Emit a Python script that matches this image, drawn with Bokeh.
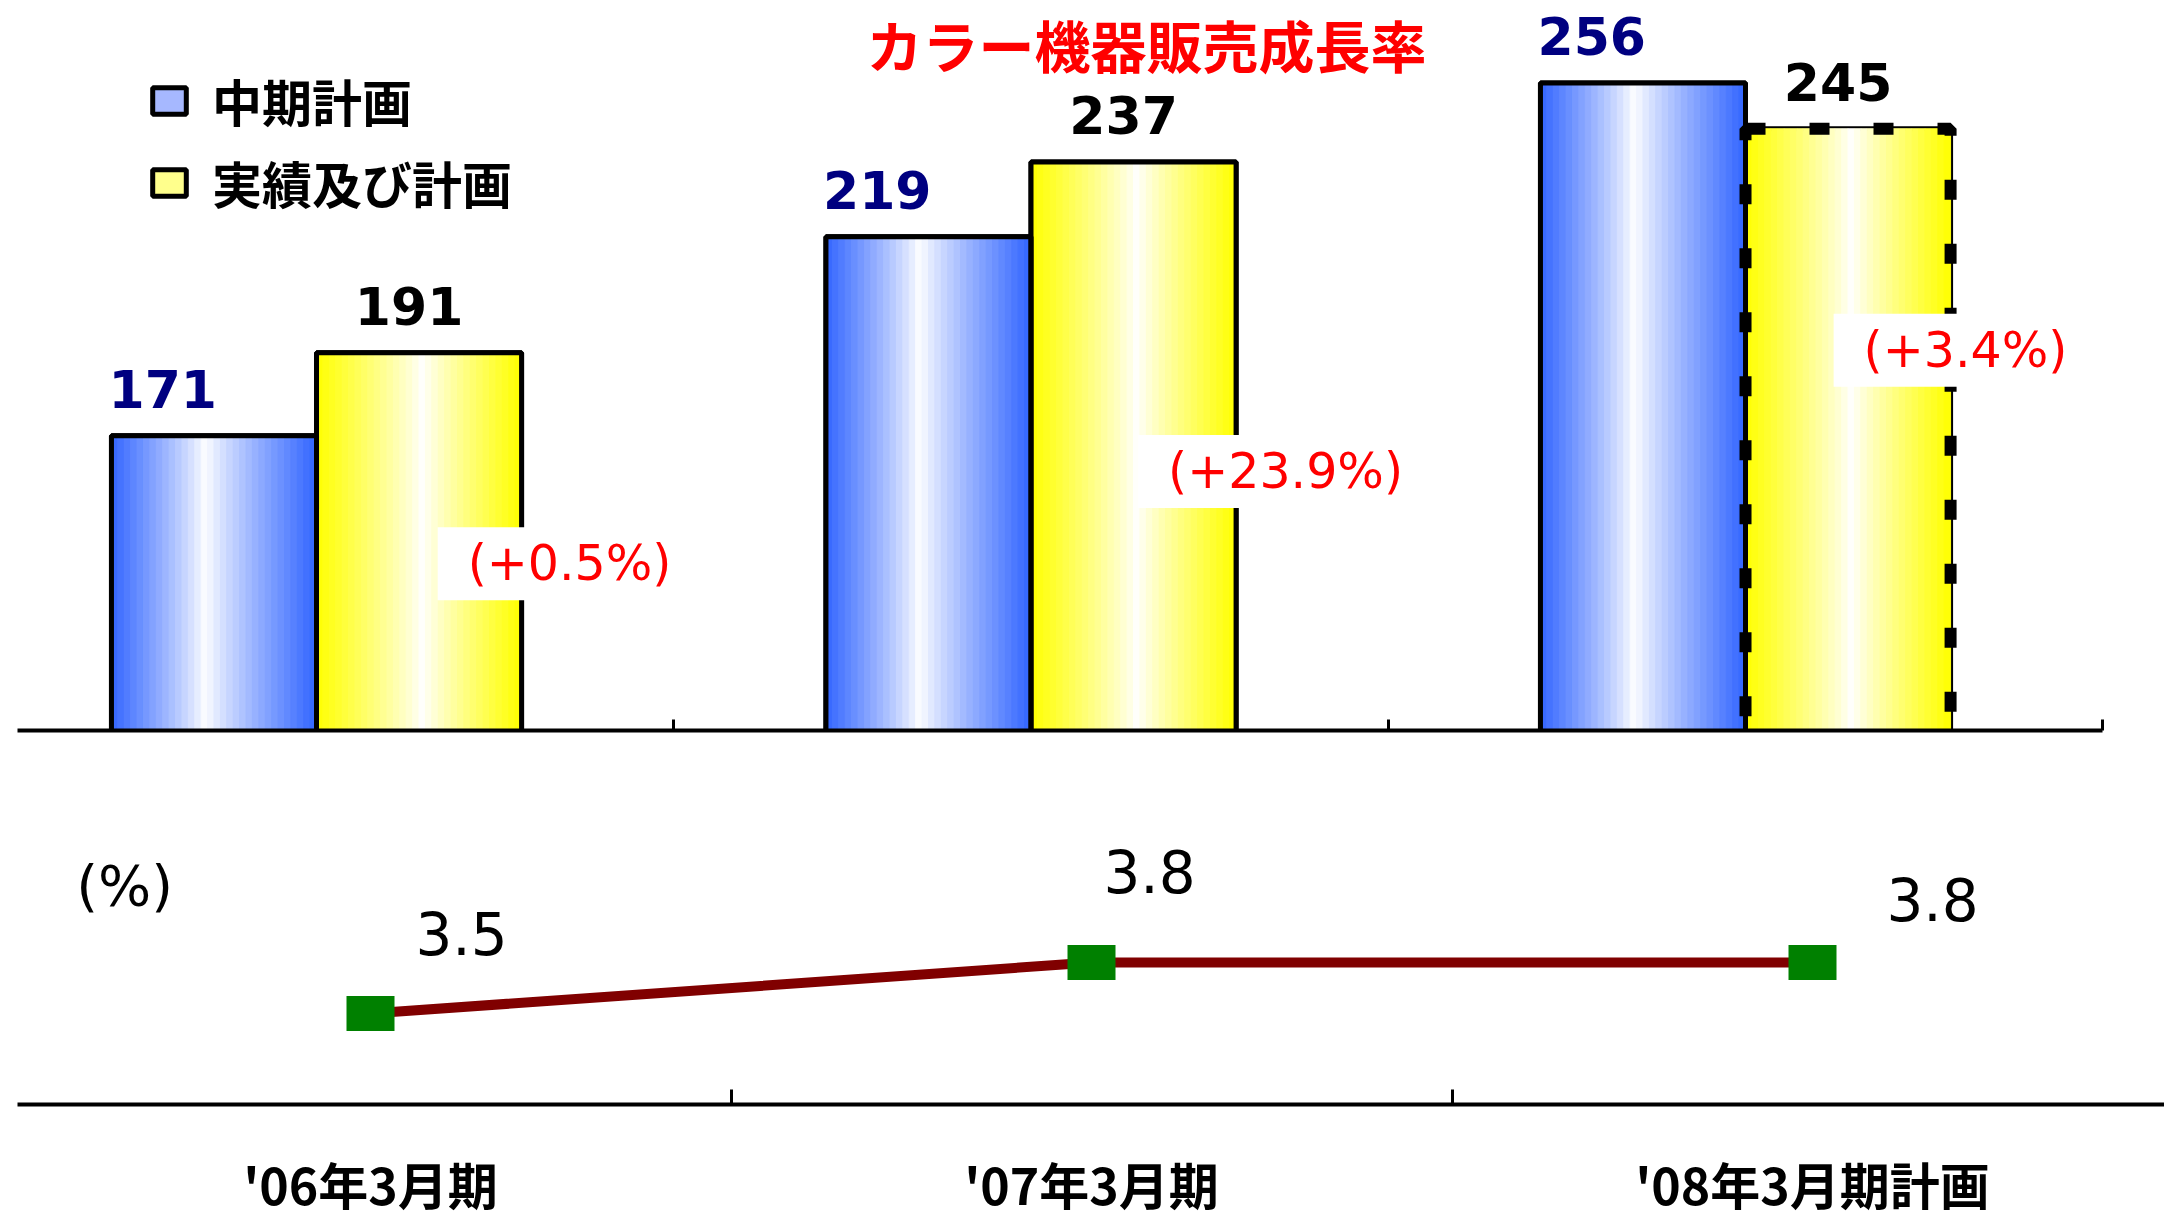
from bokeh.plotting import figure
from bokeh.models import Range1d, FixedTicker, Label, Legend, LegendItem, ColumnDataSource
from bokeh.layouts import column
from bokeh.embed import file_html
from bokeh.resources import INLINE

# ---------------- data ----------------
categories = ["'06年3月期", "'07年3月期", "'08年3月期計画"]
series_names = ["中期計画", "実績及び計画"]
plan_values = [171, 219, 256]        # 中期計画
actual_values = [191, 237, 245]      # 実績及び計画
growth_pct = [0.5, 23.9, 3.4]        # 前期比
ratio_values = [3.5, 3.8, 3.8]       # (%)
title_text = "カラー機器販売成長率"
unit_label = "(%)"

# ---------------- layout constants ----------------
W = 2164
LEFT = 17
TOP_FRAME, TOP_PANEL = 730, 60
BOT_FRAME, BOT_PANEL = 314, 118
BAR_W = 0.287
N_STRIPES = 32
CJK = "Noto Sans CJK JP"
NUM = "DejaVu Sans"
BLUE = (51, 102, 255)
YELLOW = (255, 255, 0)

TOP_Y0, TOP_PX = 100, 4.15          # bar axis start, pixels per unit
BOT_Y0, BOT_PX = 2.9647, 170.0      # ratio axis start, pixels per unit


def grad_color(base, t, c):
    w = c if t < c else 1 - c
    f = min(1.0, abs(t - c) / w) ** 0.85
    r, g, b = (round(255 * (1 - f) + ch * f) for ch in base)
    return "#%02x%02x%02x" % (r, g, b)


# ---------------- top: bars ----------------
top_end = TOP_Y0 + TOP_FRAME / TOP_PX
p1 = figure(width=W, height=TOP_FRAME + TOP_PANEL, x_range=Range1d(-0.4185, 2.5864),
            y_range=Range1d(TOP_Y0, top_end), toolbar_location=None,
            output_backend="svg", y_axis_location=None,
            min_border_left=LEFT, min_border_right=0, min_border_top=0,
            min_border_bottom=TOP_PANEL)
p1.outline_line_color = None
p1.xgrid.visible = False
p1.ygrid.visible = False

xs = list(range(len(categories)))
plan_left = [x - BAR_W for x in xs]
act_right = [x + BAR_W for x in xs]

# base bars (also used as legend swatches)
r_blue = p1.quad(left=plan_left, right=xs, top=plan_values, bottom=0,
                 fill_color="#a6b8ff", line_color="black", line_width=5)
r_yel = p1.quad(left=xs, right=act_right, top=actual_values, bottom=0,
                fill_color="#ffff8c", line_color="black", line_width=5)

# gradient fill as thin stripes
stripes = dict(left=[], right=[], top=[], color=[])
for i, (pv, av) in enumerate(zip(plan_values, actual_values)):
    for x0, val, base, c in ((i - BAR_W, pv, BLUE, 0.46), (i, av, YELLOW, 0.52)):
        for k in range(N_STRIPES):
            stripes["left"].append(x0 + k * BAR_W / N_STRIPES)
            stripes["right"].append(x0 + (k + 1) * BAR_W / N_STRIPES)
            stripes["top"].append(val)
            stripes["color"].append(grad_color(base, (k + 0.5) / N_STRIPES, c))
p1.quad(left="left", right="right", top="top", bottom=0, fill_color="color",
        line_color="color", line_width=1, source=ColumnDataSource(stripes))

# outlines
p1.quad(left=plan_left, right=xs, top=plan_values, bottom=0,
        fill_alpha=0, line_color="black", line_width=5)
solid = xs[:-1]
p1.quad(left=solid, right=[x + BAR_W for x in solid],
        top=[actual_values[i] for i in solid], bottom=0,
        fill_alpha=0, line_color="black", line_width=5)
last = xs[-1]
p1.quad(left=[last], right=[last + BAR_W], top=[actual_values[last]], bottom=0,
        fill_alpha=0, line_color="black", line_width=12, line_dash="20 44")

# value labels
p1.text(x=plan_left, y=plan_values, text=[str(v) for v in plan_values],
        text_align="left", text_baseline="alphabetic", x_offset=-3, y_offset=-47,
        text_color="#000080", text_font_size="52px", text_font_style="bold",
        text_font={"value": NUM})
p1.text(x=[x + BAR_W / 2 for x in xs], y=actual_values, text=[str(v) for v in actual_values],
        text_align="center", text_baseline="alphabetic", x_offset=-10, y_offset=-47,
        text_color="black", text_font_size="52px", text_font_style="bold",
        text_font={"value": NUM})

# growth labels
growth_dx = [0.3415, 0.3436, 0.2953]
growth_y = [140.2, 162.4, 191.6]
for i, g in enumerate(growth_pct):
    p1.add_layout(Label(x=i + growth_dx[i], y=growth_y[i], text=f"(+{g}%)",
                        text_align="center", text_baseline="middle",
                        text_color="red", text_font_size="49px", text_font=NUM,
                        background_fill_color="white",
                        padding=dict(left=30, right=12, top=8, bottom=8)))

# title
p1.add_layout(Label(x=1.1617, y=top_end, y_offset=-2, text=title_text,
                    text_align="center", text_baseline="top", text_color="red",
                    text_font_size="56px", text_font=CJK, text_font_style="bold"))

# legend
legend = Legend(items=[LegendItem(label=series_names[0], renderers=[r_blue]),
                       LegendItem(label=series_names[1], renderers=[r_yel])],
                location=(131, 507), padding=0, margin=0, spacing=0,
                glyph_width=42, glyph_height=33, label_height=82,
                label_standoff=22, label_text_font=CJK, label_text_font_style="bold",
                label_text_font_size="50px", label_text_color="black",
                border_line_color=None, background_fill_alpha=0)
p1.add_layout(legend)

ax1 = p1.xaxis[0]
ax1.ticker = FixedTicker(ticks=[], minor_ticks=[0.5, 1.5, 2.5])
ax1.bounds = (-0.4185, 2.5)
ax1.axis_line_width = 4
ax1.axis_line_color = "black"
ax1.major_tick_line_color = None
ax1.minor_tick_in = 11
ax1.minor_tick_out = 0
ax1.minor_tick_line_width = 3
ax1.minor_tick_line_color = "black"
ax1.major_label_text_font_size = "1px"
ax1.major_label_standoff = 0

# ---------------- bottom: ratio line ----------------
p2 = figure(width=W, height=BOT_FRAME + BOT_PANEL, x_range=Range1d(-0.4896, 2.4882),
            y_range=Range1d(BOT_Y0, BOT_Y0 + BOT_FRAME / BOT_PX), toolbar_location=None,
            output_backend="svg", y_axis_location=None,
            min_border_left=LEFT, min_border_right=0, min_border_top=0,
            min_border_bottom=BOT_PANEL)
p2.outline_line_color = None
p2.xgrid.visible = False
p2.ygrid.visible = False

p2.line(x=xs, y=ratio_values, line_color="#800000", line_width=10)
p2.rect(x=xs, y=ratio_values, width=48, height=35, width_units="screen",
        height_units="screen", fill_color="#008000", line_color=None)
p2.text(x=xs, y=ratio_values, text=[f"{v:.1f}" for v in ratio_values],
        x_offset=[91, 58, 120], y_offset=[-80, -91, -63],
        text_align="center", text_baseline="alphabetic", text_color="black",
        text_font_size="58px", text_font={"value": NUM})
p2.add_layout(Label(x=-0.341, y=4.253, text=unit_label, text_align="center",
                    text_baseline="middle", text_color="black",
                    text_font_size="56px", text_font=NUM))

ax2 = p2.xaxis[0]
ax2.ticker = FixedTicker(ticks=xs, minor_ticks=[0.5, 1.5])
ax2.major_label_overrides = {i: c for i, c in enumerate(categories)}
ax2.axis_line_width = 4
ax2.axis_line_color = "black"
ax2.major_tick_line_color = None
ax2.major_tick_in = 0
ax2.major_tick_out = 0
ax2.minor_tick_in = 15
ax2.minor_tick_out = 0
ax2.minor_tick_line_width = 3
ax2.minor_tick_line_color = "black"
ax2.major_label_standoff = 42
ax2.major_label_text_font = CJK
ax2.major_label_text_font_style = "bold"
ax2.major_label_text_font_size = "50px"
ax2.major_label_text_color = "black"

layout = column(p1, p2, spacing=0)
open("out.html", "w").write(file_html(layout, INLINE))
